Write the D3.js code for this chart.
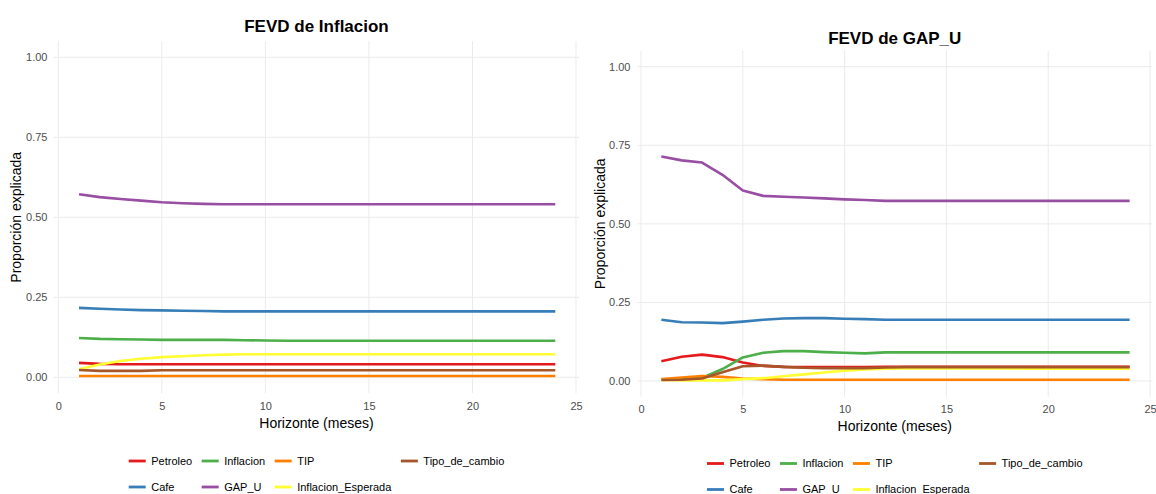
<!DOCTYPE html>
<html>
<head>
<meta charset="utf-8">
<script src="https://cdn.jsdelivr.net/npm/d3@7"></script>
<style>
  body { margin: 0; background: #ffffff; }
  svg { display: block; font-family: "Liberation Sans", Arial, sans-serif; }
</style>
</head>
<body>
<svg id="chart" width="1156" height="494"></svg>
<script>
// ---- data -------------------------------------------------------------
const horizons = [1,2,3,4,5,6,7,8,9,10,11,12,13,14,15,16,17,18,19,20,21,22,23,24];
const shocks = ["Petroleo", "Cafe", "Inflacion", "GAP_U", "TIP", "Inflacion_Esperada", "Tipo_de_cambio"];
const shockColors = ["#E41A1C", "#377EB8", "#4DAF4A", "#984EA3", "#FF7F00", "#FFFF33", "#A65628"];
const xTicks = [0, 5, 10, 15, 20, 25];
const yTicks = [0, 0.25, 0.5, 0.75, 1];

// FEVD de Inflacion: share of the forecast error variance by shock
const inflPetroleo = [0.045,0.042,0.041,0.041,0.041,0.041,0.041,0.041,0.041,0.041,0.041,0.041,0.041,0.041,0.041,0.041,0.041,0.041,0.041,0.041,0.041,0.041,0.041,0.041];
const inflCafe     = [0.217,0.214,0.212,0.210,0.209,0.208,0.207,0.206,0.206,0.206,0.206,0.206,0.206,0.206,0.206,0.206,0.206,0.206,0.206,0.206,0.206,0.206,0.206,0.206];
const inflInflacion= [0.123,0.120,0.119,0.118,0.117,0.117,0.117,0.117,0.116,0.115,0.114,0.114,0.114,0.114,0.114,0.114,0.114,0.114,0.114,0.114,0.114,0.114,0.114,0.114];
const inflGapU     = [0.572,0.563,0.557,0.552,0.547,0.544,0.542,0.541,0.541,0.541,0.541,0.541,0.541,0.541,0.541,0.541,0.541,0.541,0.541,0.541,0.541,0.541,0.541,0.541];
const inflTIP      = [0.004,0.004,0.004,0.004,0.004,0.004,0.004,0.004,0.004,0.004,0.004,0.004,0.004,0.004,0.004,0.004,0.004,0.004,0.004,0.004,0.004,0.004,0.004,0.004];
const inflEsperada = [0.025,0.040,0.051,0.058,0.063,0.066,0.069,0.071,0.072,0.072,0.072,0.072,0.072,0.072,0.072,0.072,0.072,0.072,0.072,0.072,0.072,0.072,0.072,0.072];
const inflTipo     = [0.023,0.020,0.020,0.020,0.022,0.022,0.022,0.022,0.022,0.022,0.022,0.022,0.022,0.022,0.022,0.022,0.022,0.022,0.022,0.022,0.022,0.022,0.022,0.022];

// FEVD de GAP_U
const gapPetroleo  = [0.063,0.077,0.084,0.076,0.059,0.048,0.045,0.044,0.044,0.044,0.044,0.045,0.045,0.045,0.045,0.045,0.045,0.045,0.045,0.045,0.045,0.045,0.045,0.045];
const gapCafe      = [0.195,0.187,0.186,0.184,0.189,0.195,0.199,0.200,0.200,0.198,0.197,0.195,0.195,0.195,0.195,0.195,0.195,0.195,0.195,0.195,0.195,0.195,0.195,0.195];
const gapInflacion = [0.004,0.006,0.010,0.038,0.075,0.090,0.095,0.095,0.092,0.090,0.088,0.091,0.091,0.091,0.091,0.091,0.091,0.091,0.091,0.091,0.091,0.091,0.091,0.091];
const gapGapU      = [0.714,0.702,0.695,0.656,0.606,0.589,0.586,0.584,0.581,0.578,0.576,0.573,0.573,0.573,0.573,0.573,0.573,0.573,0.573,0.573,0.573,0.573,0.573,0.573];
const gapTIP       = [0.006,0.011,0.016,0.013,0.008,0.006,0.004,0.004,0.004,0.004,0.004,0.004,0.004,0.004,0.004,0.004,0.004,0.004,0.004,0.004,0.004,0.004,0.004,0.004];
const gapEsperada  = [0.003,0.002,0.002,0.002,0.006,0.009,0.015,0.021,0.027,0.033,0.037,0.039,0.040,0.040,0.040,0.040,0.040,0.040,0.039,0.039,0.039,0.039,0.039,0.039];
const gapTipo      = [0.003,0.004,0.008,0.028,0.047,0.049,0.045,0.042,0.041,0.041,0.041,0.043,0.044,0.044,0.044,0.044,0.044,0.044,0.044,0.044,0.044,0.044,0.044,0.044];

const inflSeries = [inflPetroleo, inflCafe, inflInflacion, inflGapU, inflTIP, inflEsperada, inflTipo];
const gapSeries  = [gapPetroleo, gapCafe, gapInflacion, gapGapU, gapTIP, gapEsperada, gapTipo];

// ---- drawing ----------------------------------------------------------
const svg = d3.select("#chart");
svg.append("rect").attr("width", 1156).attr("height", 494).attr("fill", "#ffffff");

function drawPanel(cfg, title, series) {
  const g = svg.append("g");
  const x = d3.scaleLinear().domain([0, 25]).range([cfg.x0, cfg.x25]);
  const y = d3.scaleLinear().domain([0, 1]).range([cfg.y0, cfg.y1]);
  const cx = (cfg.left + cfg.right) / 2;

  // grid
  g.append("g").selectAll("line").data(yTicks).join("line")
    .attr("x1", cfg.left).attr("x2", cfg.right)
    .attr("y1", d => y(d)).attr("y2", d => y(d))
    .attr("stroke", "#ebebeb").attr("stroke-width", 1);
  g.append("g").selectAll("line").data(xTicks).join("line")
    .attr("x1", d => x(d)).attr("x2", d => x(d))
    .attr("y1", cfg.top).attr("y2", cfg.bottom)
    .attr("stroke", "#ebebeb").attr("stroke-width", 1);

  // axes (labels only)
  const yAxis = g.append("g").attr("transform", `translate(${cfg.left},0)`)
    .call(d3.axisLeft(y).tickValues(yTicks).tickFormat(d3.format(".2f")).tickSize(0).tickPadding(6.5));
  const xAxis = g.append("g").attr("transform", `translate(0,${cfg.bottom})`)
    .call(d3.axisBottom(x).tickValues(xTicks).tickFormat(d3.format("d")).tickSize(0).tickPadding(8.4));
  [yAxis, xAxis].forEach(a => {
    a.select(".domain").remove();
    a.selectAll("text").attr("fill", "#4d4d4d").style("font-size", "11px")
      .style("font-family", "'Liberation Sans', Arial, sans-serif");
  });

  // series lines
  const line = d3.line().x((d, i) => x(horizons[i])).y(d => y(d));
  g.append("g").selectAll("path").data(series).join("path")
    .attr("d", d => line(d))
    .attr("fill", "none")
    .attr("stroke", (d, i) => shockColors[i])
    .attr("stroke-width", 2.6)
    .attr("stroke-linejoin", "round");

  // titles
  g.append("text").attr("x", cx).attr("y", cfg.titleY)
    .attr("text-anchor", "middle").style("font-size", "17px").style("font-weight", "bold")
    .attr("fill", "#000").text(title);
  g.append("text").attr("x", cx).attr("y", cfg.xTitleY)
    .attr("text-anchor", "middle").style("font-size", "14px").attr("fill", "#000")
    .text("Horizonte (meses)");
  g.append("text")
    .attr("transform", `translate(${cfg.yTitleX},${(cfg.top + cfg.bottom) / 2}) rotate(-90)`)
    .attr("text-anchor", "middle").style("font-size", "14px").attr("fill", "#000")
    .text("Proporción explicada");

  // legend: two rows, filled column by column
  const keyW = 17, keyGap = 5.5, colGap = 9.5;
  const cols = [];
  shocks.forEach((s, i) => {
    const c = Math.floor(i / 2);
    (cols[c] = cols[c] || []).push(i);
  });
  const measure = g.append("text").style("font-size", "11px");
  const colWidths = cols.map(idx => keyW + keyGap + d3.max(idx, i => {
    measure.text(shocks[i]);
    return measure.node().getComputedTextLength();
  }));
  measure.remove();
  const total = d3.sum(colWidths) + colGap * (cols.length - 1);
  let lx = cx - total / 2;
  const leg = g.append("g");
  cols.forEach((idx, c) => {
    idx.forEach((i, r) => {
      const ly = cfg.legendY[r];
      leg.append("line").attr("x1", lx).attr("x2", lx + keyW)
        .attr("y1", ly).attr("y2", ly)
        .attr("stroke", shockColors[i]).attr("stroke-width", 2.8);
      leg.append("text").attr("x", lx + keyW + keyGap).attr("y", ly).attr("dy", "0.35em")
        .style("font-size", "11px").attr("fill", "#000").text(shocks[i]);
    });
    lx += colWidths[c] + colGap;
  });
}

drawPanel({
  left: 54, right: 579, top: 41.3, bottom: 393.3,
  x0: 58.3, x25: 576, y0: 377.3, y1: 57.3,
  titleY: 31.5, xTitleY: 427.5, yTitleX: 21, legendY: [461, 487]
}, "FEVD de Inflacion", inflSeries);

drawPanel({
  left: 637, right: 1152.5, top: 50.9, bottom: 396.7,
  x0: 641, x25: 1150, y0: 381, y1: 66.7,
  titleY: 43.5, xTitleY: 431, yTitleX: 604.5, legendY: [463.5, 489.5]
}, "FEVD de GAP_U", gapSeries);
</script>
</body>
</html>
